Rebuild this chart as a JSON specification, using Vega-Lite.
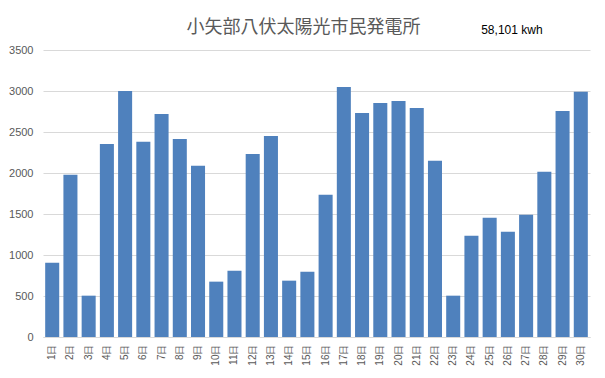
{
  "$schema": "https://vega.github.io/schema/vega-lite/v6.json",
  "autosize": {"type": "none"},
  "width": 547,
  "height": 287,
  "padding": {"left": 43, "top": 50, "right": 15, "bottom": 41},
  "background": "white",
  "title": {
    "text": "小矢部八伏太陽光市民発電所",
    "font": "Noto Sans CJK JP",
    "fontSize": 18,
    "fontWeight": "normal",
    "color": "#595959",
    "anchor": "middle",
    "offset": 12,
    "dx": -13,
    "dy": 25
  },
  "data": {
    "values": [
      {"day": "1日", "kwh": 905},
      {"day": "2日", "kwh": 1980},
      {"day": "3日", "kwh": 504},
      {"day": "4日", "kwh": 2355},
      {"day": "5日", "kwh": 3000},
      {"day": "6日", "kwh": 2380},
      {"day": "7日", "kwh": 2720},
      {"day": "8日", "kwh": 2415},
      {"day": "9日", "kwh": 2089},
      {"day": "10日", "kwh": 675},
      {"day": "11日", "kwh": 809},
      {"day": "12日", "kwh": 2232},
      {"day": "13日", "kwh": 2451},
      {"day": "14日", "kwh": 687},
      {"day": "15日", "kwh": 797},
      {"day": "16日", "kwh": 1736},
      {"day": "17日", "kwh": 3050},
      {"day": "18日", "kwh": 2732},
      {"day": "19日", "kwh": 2854},
      {"day": "20日", "kwh": 2878},
      {"day": "21日", "kwh": 2793},
      {"day": "22日", "kwh": 2150},
      {"day": "23日", "kwh": 504},
      {"day": "24日", "kwh": 1236},
      {"day": "25日", "kwh": 1455},
      {"day": "26日", "kwh": 1285},
      {"day": "27日", "kwh": 1492},
      {"day": "28日", "kwh": 2016},
      {"day": "29日", "kwh": 2756},
      {"day": "30日", "kwh": 2990}
    ]
  },
  "layer": [
    {
      "mark": {"type": "bar", "color": "#4f81bd"},
      "encoding": {
        "x": {
          "field": "day",
          "type": "nominal",
          "sort": null,
          "scale": {"paddingInner": 0.23, "paddingOuter": 0.12},
          "axis": {
            "title": null,
            "labelAngle": -90,
            "labelFontSize": 10,
            "labelFont": "Liberation Sans",
            "labelColor": "#595959",
            "labelPadding": 7,
            "ticks": false,
            "domainColor": "#d9d9d9",
            "grid": false
          }
        },
        "y": {
          "field": "kwh",
          "type": "quantitative",
          "scale": {"domain": [0, 3500], "nice": false},
          "axis": {
            "title": null,
            "values": [0, 500, 1000, 1500, 2000, 2500, 3000, 3500],
            "format": "d",
            "labelFontSize": 11,
            "labelFont": "Liberation Sans",
            "labelColor": "#595959",
            "labelPadding": 10,
            "ticks": false,
            "domain": false,
            "gridColor": "#d9d9d9",
            "gridWidth": 1
          }
        }
      }
    },
    {
      "data": {"values": [{"label": "58,101 kwh"}]},
      "mark": {"type": "text", "fontSize": 12, "font": "Liberation Sans", "color": "#000000", "baseline": "middle", "align": "center", "dx": 4},
      "encoding": {
        "x": {"datum": "26日"},
        "y": {"datum": 3750},
        "text": {"field": "label"}
      }
    }
  ],
  "config": {"view": {"stroke": null}}
}
